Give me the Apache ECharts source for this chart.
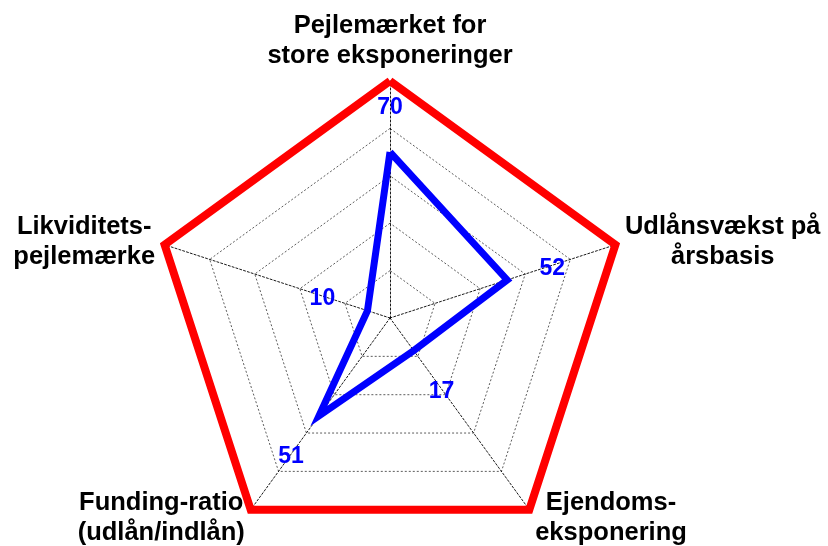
<!DOCTYPE html>
<html>
<head>
<meta charset="utf-8">
<script src="https://cdn.jsdelivr.net/npm/echarts@6/dist/echarts.min.js"></script>
<style>
html,body{margin:0;padding:0;background:#fff;}
#chart{width:828px;height:546px;}
</style>
</head>
<body>
<div id="chart"></div>
<script>
// Indicators listed counter-clockwise starting at the top
const indicatorNames = [
  'Pejlemærket for\nstore eksponeringer',
  'Likviditets-\npejlemærke',
  'Funding-ratio\n(udlån/indlån)',
  'Ejendoms-\neksponering',
  'Udlånsvækst på\nårsbasis'
];
const indicatorMax = [100, 100, 100, 100, 100];
const values = [70, 10, 51, 17, 52];
const limitValues = [100, 100, 100, 100, 100];
const labelOffset = 20; // value labels sit 20 units further out along each axis

const labelPositions = values.map(v => v + labelOffset);

const chart = echarts.init(document.getElementById('chart'), null, {renderer: 'canvas'});
const FONT = '"Liberation Sans", Arial, Helvetica, sans-serif';

chart.setOption({
  animation: false,
  backgroundColor: '#fff',
  radar: {
    center: [390, 318],
    radius: 237,
    startAngle: 90,
    splitNumber: 5,
    shape: 'polygon',
    indicator: indicatorNames.map((n, i) => ({name: n, max: indicatorMax[i], min: 0})),
    axisName: {
      formatter: function (name) {
        return name.split('\n').map(l => '{n|' + l + '}').join('\n');
      },
      rich: {
        n: {
          align: 'center',
          fontFamily: FONT,
          fontWeight: 'bold',
          fontSize: 25.5,
          lineHeight: 30,
          color: '#000'
        }
      }
    },
    nameGap: 10,
    splitArea: {show: false},
    splitLine: {lineStyle: {color: '#333', width: 0.8, type: [2, 2]}},
    axisLine: {lineStyle: {color: '#000', width: 0.9, type: [2, 2]}}
  },
  series: [
    {
      type: 'radar',
      silent: true,
      symbol: 'none',
      z: 3,
      lineStyle: {color: '#ff0000', width: 8, join: 'miter'},
      data: [{value: limitValues}]
    },
    {
      type: 'radar',
      silent: true,
      symbol: 'none',
      z: 4,
      lineStyle: {color: '#0000ff', width: 7, join: 'miter'},
      data: [{value: values}]
    },
    {
      type: 'radar',
      silent: true,
      symbol: 'circle',
      symbolSize: 1,
      z: 5,
      itemStyle: {color: 'rgba(0,0,0,0)'},
      lineStyle: {width: 0, opacity: 0},
      label: {
        show: true,
        position: 'inside',
        offset: [0, 3],
        fontFamily: FONT,
        fontWeight: 'bold',
        fontSize: 23,
        color: '#0000ff',
        formatter: function (p) { return String(p.value - labelOffset); }
      },
      data: [{value: labelPositions}]
    }
  ]
});
</script>
</body>
</html>
